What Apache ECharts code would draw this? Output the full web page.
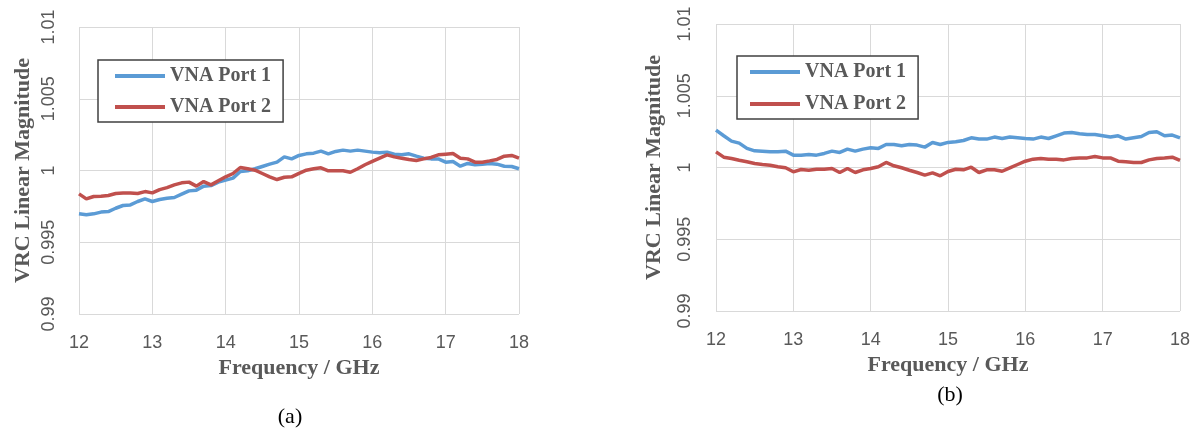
<!DOCTYPE html>
<html>
<head>
<meta charset="utf-8">
<script src="https://cdn.jsdelivr.net/npm/echarts@6/dist/echarts.min.js"></script>
<style>
html,body{margin:0;padding:0;background:#fff;}
#chart{width:1198px;height:432px;}
</style>
</head>
<body>
<div id="chart"></div>
<script>
// Frequency points (GHz)
const freq = [12.0,12.1,12.2,12.3,12.4,12.5,12.6,12.7,12.8,12.9,
  13.0,13.1,13.2,13.3,13.4,13.5,13.6,13.7,13.8,13.9,
  14.0,14.1,14.2,14.3,14.4,14.5,14.6,14.7,14.8,14.9,
  15.0,15.1,15.2,15.3,15.4,15.5,15.6,15.7,15.8,15.9,
  16.0,16.1,16.2,16.3,16.4,16.5,16.6,16.7,16.8,16.9,
  17.0,17.1,17.2,17.3,17.4,17.5,17.6,17.7,17.8,17.9,18.0];

// (a) panel
const aPort1 = [0.99698,0.99691,0.99698,0.9971,0.99714,0.99737,0.99756,0.9976,0.99784,0.99802,
  0.99784,0.99798,0.99807,0.99812,0.99835,0.99858,0.99863,0.99891,0.99895,0.99919,
  0.99933,0.99947,0.99993,0.99998,1.00012,1.00028,1.00044,1.00058,1.00095,1.00081,
  1.00105,1.00116,1.00121,1.00135,1.00116,1.00133,1.00142,1.00135,1.00142,1.00135,
  1.00128,1.00123,1.00128,1.00114,1.00109,1.00116,1.001,1.00086,1.00081,1.00081,
  1.00058,1.00063,1.0003,1.00049,1.0004,1.00044,1.00049,1.00044,1.0003,1.00028,1.00012];
const aPort2 = [0.99837,0.99802,0.99819,0.99821,0.99826,0.9984,0.99844,0.99844,0.9984,0.99853,
  0.99844,0.99867,0.99881,0.999,0.99914,0.99919,0.99891,0.99923,0.999,0.99928,
  0.99956,0.99979,1.00021,1.00012,1.00002,0.99979,0.99956,0.99937,0.99953,0.99956,
  0.9998,1.00002,1.00012,1.00019,0.99998,0.99998,0.99998,0.99988,1.00012,1.0004,
  1.00063,1.00086,1.00109,1.00095,1.00086,1.00077,1.0007,1.00081,1.00091,1.00109,
  1.00114,1.00119,1.00086,1.00081,1.00058,1.00058,1.00067,1.00077,1.001,1.00105,1.00086];

// (b) panel
const bPort1 = [1.0026,1.00221,1.00184,1.0017,1.00133,1.00116,1.00114,1.00109,1.00109,1.00114,
  1.00086,1.00086,1.00091,1.00086,1.00098,1.00114,1.00105,1.00128,1.00114,1.00128,
  1.00137,1.00133,1.0016,1.0016,1.00151,1.0016,1.00156,1.00142,1.00174,1.0016,
  1.00175,1.00179,1.00188,1.00207,1.00198,1.00198,1.00212,1.00202,1.00212,1.00207,
  1.00202,1.00198,1.00212,1.00202,1.00221,1.0024,1.00244,1.00235,1.0023,1.0023,
  1.00221,1.00212,1.00221,1.00198,1.00207,1.00216,1.00244,1.00249,1.00221,1.00226,1.00207];
const bPort2 = [1.00109,1.00072,1.00063,1.00051,1.0004,1.00028,1.00021,1.00016,1.00005,0.99998,
  0.9997,0.99986,0.99981,0.99988,0.99988,0.99993,0.99965,0.99993,0.99965,0.99984,
  0.99993,1.00005,1.00035,1.00012,0.99998,0.99981,0.99965,0.99947,0.99963,0.99942,
  0.99972,0.99988,0.99984,1.00002,0.99965,0.99984,0.99984,0.99974,0.99998,1.00021,
  1.00044,1.00058,1.00063,1.00058,1.00058,1.00053,1.00063,1.00067,1.00067,1.00077,
  1.00067,1.00067,1.00044,1.0004,1.00035,1.00035,1.00053,1.00063,1.00067,1.00072,1.00049];

const seriesNames = ['VNA Port 1','VNA Port 2'];
const xTickLabels = ['12','13','14','15','16','17','18'];
const yTickLabels = ['0.99','0.995','1','1.005','1.01'];
const xTitle = 'Frequency / GHz';
const yTitle = 'VRC Linear Magnitude';
const panelLabels = ['(a)','(b)'];

const BLUE = '#5B9BD5', RED = '#C0504D';
const GREY = '#595959', GRID = '#d9d9d9';
const SERIF = '"Liberation Serif","Times New Roman",serif';
const SANS = '"Liberation Sans",Arial,sans-serif';

function pairs(xs, ys){ return xs.map((x,i)=>[x, ys[i]]); }

function xAxisCfg(idx, gap){
  return {
    type:'value', gridIndex:idx, min:12, max:18, interval:1,
    axisLine:{show:false}, axisTick:{show:false},
    splitLine:{show:true, lineStyle:{color:GRID, width:1}},
    axisLabel:{color:GREY, fontSize:18, fontFamily:SANS, margin:20,
      formatter:v=>xTickLabels[Math.round(v-12)]},
    name:xTitle, nameLocation:'middle', nameGap:gap,
    nameTextStyle:{color:GREY, fontSize:22, fontWeight:'bold', fontFamily:SERIF}
  };
}
function yAxisCfg(idx, gap, margin){
  return {
    type:'value', gridIndex:idx, min:0.99, max:1.01, interval:0.005,
    axisLine:{show:false}, axisTick:{show:false},
    splitLine:{show:true, lineStyle:{color:GRID, width:1}},
    axisLabel:{color:GREY, fontSize:18, fontFamily:SANS, rotate:90, margin:margin,
      formatter:v=>yTickLabels[Math.round((v-0.99)/0.005)]},
    name:yTitle, nameLocation:'middle', nameGap:gap, nameRotate:90,
    nameTextStyle:{color:GREY, fontSize:22, fontWeight:'bold', fontFamily:SERIF}
  };
}
function lineSeries(name, idx, data, color){
  return {
    name:name, type:'line', xAxisIndex:idx, yAxisIndex:idx,
    data:data, symbol:'none', showSymbol:false, smooth:false,
    lineStyle:{color:color, width:3.5}, itemStyle:{color:color},
    emphasis:{disabled:true}, animation:false
  };
}
function legendCfg(left, top, padding, gap){
  return {
    data:seriesNames, orient:'vertical', left:left, top:top,
    padding:padding, itemGap:gap, itemWidth:50, itemHeight:4, icon:'rect',
    borderColor:'#404040', borderWidth:1.5, backgroundColor:'#fff',
    textStyle:{color:GREY, fontSize:20, fontWeight:'bold', fontFamily:SERIF},
    selectedMode:false
  };
}

const chart = echarts.init(document.getElementById('chart'), null, {renderer:'canvas'});
chart.setOption({
  backgroundColor:'#fff',
  animation:false,
  grid:[
    {left:79, top:27, width:440, height:287},
    {left:716, top:24, width:464, height:287}
  ],
  xAxis:[xAxisCfg(0, 39), xAxisCfg(1, 42)],
  yAxis:[yAxisCfg(0, 45, 21), yAxisCfg(1, 51, 22)],
  legend:[
    legendCfg(98, 60, [6,12,5,17], 11),
    legendCfg(737, 56, [6,12,5,13], 12)
  ],
  series:[
    lineSeries(seriesNames[0], 0, pairs(freq, aPort1), BLUE),
    lineSeries(seriesNames[1], 0, pairs(freq, aPort2), RED),
    lineSeries(seriesNames[0], 1, pairs(freq, bPort1), BLUE),
    lineSeries(seriesNames[1], 1, pairs(freq, bPort2), RED)
  ],
  graphic:[
    {type:'text', x:290, y:417, style:{text:panelLabels[0], fill:'#000', fontSize:22, fontFamily:SERIF, align:'center', verticalAlign:'middle'}},
    {type:'text', x:950, y:395, style:{text:panelLabels[1], fill:'#000', fontSize:22, fontFamily:SERIF, align:'center', verticalAlign:'middle'}}
  ]
});
</script>
</body>
</html>
